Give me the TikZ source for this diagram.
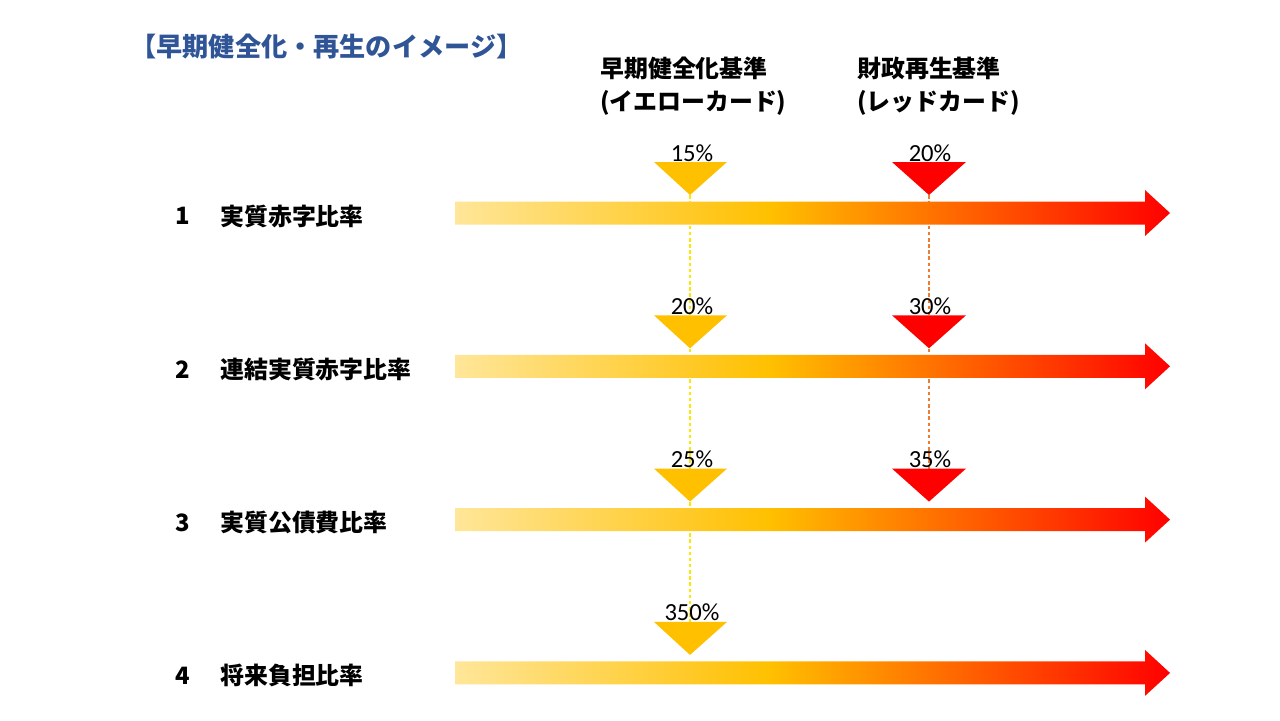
\documentclass[tikz,border=0pt]{standalone}
\usepackage{fontspec}
\setmainfont{Noto Sans CJK JP}
\newfontfamily\pctfont{Carlito}
\usetikzlibrary{backgrounds}
\definecolor{titleblue}{HTML}{2F5597}
\definecolor{cardyellow}{HTML}{FFC000}
\definecolor{cardred}{HTML}{FF0000}
\definecolor{barlight}{HTML}{FFE699}
\definecolor{dashyellow}{HTML}{FFE600}
\definecolor{dashorange}{HTML}{ED7D31}
\pgfdeclarehorizontalshading{barshade}{100bp}{color(0bp)=(barlight); color(25bp)=(barlight); color(47bp)=(cardyellow); color(75bp)=(cardred); color(100bp)=(cardred)}

\begin{document}
\begin{tikzpicture}[x=0.02cm, y=-0.02cm, line join=round,
  every node/.style={inner sep=0pt},
  jp/.style={font=\fontsize{13.6}{16}\selectfont\bfseries},
  pct/.style={font=\pctfont\fontsize{14}{16}\selectfont, anchor=base},
  bar/.style={shading=barshade},
  guide/.style={line width=0.9pt, dash pattern=on 2pt off 1.5pt}]
 % Frame
 \useasboundingbox (0,0) rectangle (1280,720);
 % Title and card headings
 \node[jp, font=\fontsize{14.9}{17}\selectfont\bfseries, text=titleblue, anchor=west] (title) at (130,47) {【早期健全化・再生のイメージ】};
 \node[jp, anchor=west] (yhead) at (600,68) {早期健全化基準};
 \node[jp, anchor=west] (ycard) at (600,103) {(イエローカード)};
 \node[jp, anchor=west] (rhead) at (857,68) {財政再生基準};
 \node[jp, anchor=west] (rcard) at (857,103) {(レッドカード)};
 % Ratio arrows
 \foreach \i/\txt in {1/実質赤字比率,2/連結実質赤字比率,3/実質公債費比率,4/将来負担比率}{
  \pgfmathsetmacro\yc{213+153.3*(\i-1)}
  \node[jp] (num\i) at (183,\yc+3) {\i};
  \node[jp, anchor=west] (name\i) at (220,\yc+3) {\txt};
  \shade[bar] (455,\yc-11.5) -- (1145,\yc-11.5) -- (1145,\yc-23) -- (1170,\yc)
   -- (1145,\yc+23) -- (1145,\yc+11.5) -- (455,\yc+11.5) -- cycle;
 }
 % Yellow cards
 \foreach \i/\p in {1/15,2/20,3/25,4/350}{
  \pgfmathsetmacro\yc{213+153.3*(\i-1)}
  \fill[cardyellow] (654,\yc-51) -- (727,\yc-51) -- (690,\yc-18) coordinate (ytip\i) -- cycle;
  \node[pct] (ypct\i) at (692,\yc-52) {\p\%};
 }
 % Red cards
 \foreach \i/\p in {1/20,2/30,3/35}{
  \pgfmathsetmacro\yc{213+153.3*(\i-1)}
  \fill[cardred] (892,\yc-51) -- (966,\yc-51) -- (929,\yc-18) coordinate (rtip\i) -- cycle;
  \node[pct] (rpct\i) at (930,\yc-52) {\p\%};
 }
 % Guide lines
 \begin{scope}[on background layer]
  \draw[guide, dashyellow] (ytip1) -- (ytip4);
  \draw[guide, dashorange] (rtip1) -- (rtip3);
 \end{scope}
\end{tikzpicture}
\end{document}
